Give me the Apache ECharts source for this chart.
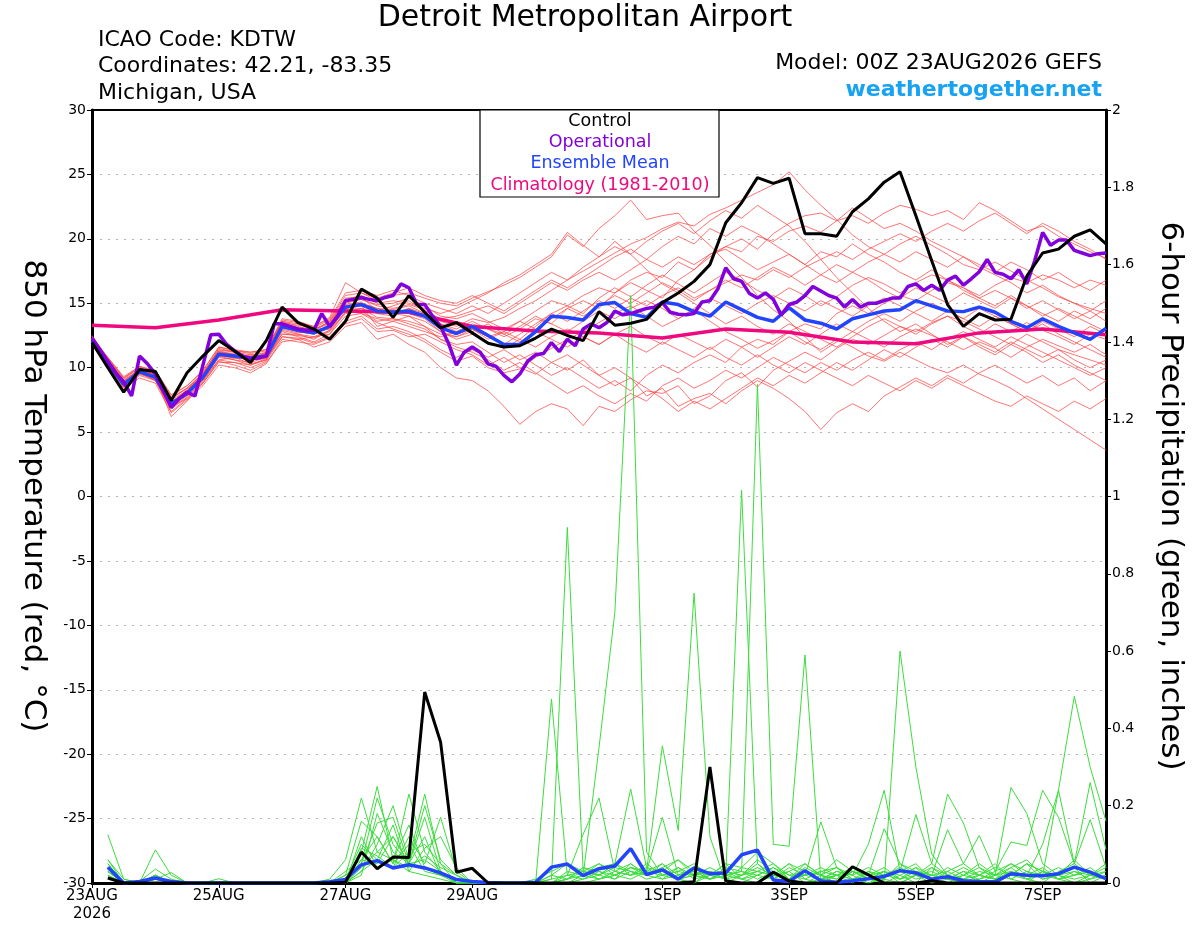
<!DOCTYPE html>
<html><head><meta charset="utf-8">
<script src="https://cdn.jsdelivr.net/npm/echarts@6/dist/echarts.min.js"></script>
<style>html,body{margin:0;padding:0;background:#fff}#c{width:1200px;height:927px}</style>
</head><body><div id="c"></div>
<script>
// ---- axis ticks / labels (x in 6-hour steps from 23AUG2026 00Z) ----
const dateTickSteps = [0, 8, 16, 24, 36, 44, 52, 60];
const dateTickLabels = ['23AUG\n2026', '25AUG', '27AUG', '29AUG', '1SEP', '3SEP', '5SEP', '7SEP'];
const legendNames = ['Control', 'Operational', 'Ensemble Mean', 'Climatology (1981-2010)'];

// ---- 850 hPa temperature, 6-hourly ----
const controlTemp = [
  11.96,10.0,8.1,9.85,9.7,7.45,9.6,10.9,
  12.1,11.3,10.4,12.1,14.7,13.5,13.0,12.2,
  13.6,16.1,15.4,13.9,15.6,14.3,13.1,13.5,
  12.7,11.9,11.6,11.7,12.3,13.0,12.5,12.1,
  14.35,13.3,13.45,13.75,15.05,15.8,16.7,18.0,
  21.25,22.8,24.75,24.3,24.7,20.4,20.4,20.2,
  22.1,23.1,24.4,25.2,21.8,18.3,14.9,13.2,
  14.2,13.7,13.75,17.1,18.9,19.2,20.2,20.7,
  19.6];
const meanTemp = [
  12.1,10.4,8.7,9.7,9.25,7.2,8.0,9.25,
  11.05,10.9,10.75,10.9,13.2,12.9,12.7,13.2,
  14.7,14.9,14.4,14.3,14.4,14.0,13.1,12.65,
  13.2,12.5,11.8,11.8,12.8,14.0,13.9,13.7,
  14.9,15.05,14.2,13.9,15.1,14.9,14.35,14.0,
  15.1,14.5,13.9,13.6,14.65,13.7,13.45,13.0,
  13.8,14.1,14.4,14.5,15.2,14.8,14.4,14.35,
  14.7,14.3,13.6,13.1,13.8,13.2,12.7,12.2,
  13.05];
// operational run, 3-hourly
const operationalTemp = [
  12.3,11.4,10.5,9.6,8.9,7.8,10.9,10.3,
  9.5,8.2,6.9,7.6,8.1,7.8,10.2,12.55,
  12.6,11.8,11.3,10.9,10.7,10.75,10.9,13.4,
  13.4,13.2,13.0,12.9,12.9,14.2,13.2,14.0,
  15.2,15.3,15.45,15.3,15.2,15.45,15.6,16.5,
  16.2,14.9,14.9,14.0,13.2,11.9,10.2,11.2,
  11.6,11.2,10.3,10.1,9.4,8.9,9.5,10.5,
  11.0,11.1,11.95,11.25,12.2,11.7,13.0,13.4,
  13.1,13.5,14.4,14.1,14.2,14.4,14.6,14.7,
  15.05,14.3,14.15,14.1,14.2,15.1,15.2,16.1,
  17.75,16.9,16.7,15.75,15.4,15.8,15.3,14.1,
  14.9,15.1,15.6,16.3,15.95,15.6,15.4,14.7,
  15.3,14.7,15.0,15.0,15.2,15.4,15.4,16.3,
  16.5,16.0,16.4,16.0,16.8,17.1,16.4,16.9,
  17.45,18.4,17.4,17.25,16.9,17.6,16.5,18.3,
  20.5,19.5,19.9,19.9,19.1,18.9,18.7,18.85,
  18.9];
// climatology, daily (every 4th 6-hour step)
const climatologyTemp = [13.3,13.1,13.7,14.5,14.4,14.3,13.2,12.85,12.7,12.3,13.0,12.75,12.0,11.85,12.7,13.0,12.55];

const memberTemp = [
 [12.4,10.6,9.0,9.9,9.5, 7.5,8.2,9.6,11.3,11.0, 10.5,11.2,13.5,13.0,12.8, 13.6,15.2,15.3,14.8,14.6, 14.9,14.5,13.6,13.2,13.8, 13.5,13.9,14.6,15.2,16.0, 16.8,17.5,18.2,18.9,19.6, 20.1,20.8,21.3,21.0,21.9, 22.4,23.0,23.6,24.2,25.2, 23.8,22.6,21.5,20.3,19.4, 18.8,19.6,20.2,19.5,18.8, 18.0,17.6,18.2,17.5,16.8, 16.2,15.5,15.0,14.6,14.2],
 [12.0,10.2,8.5,9.4,9.0, 6.8,7.7,9.0,10.8,10.6, 10.2,10.6,12.8,12.4,12.0, 12.6,14.0,14.2,13.5,13.0, 12.6,12.0,11.2,10.5,10.9, 10.0,9.6,9.9,10.8,11.5, 12.2,12.8,13.5,14.2,14.8, 14.0,13.2,13.8,14.5,13.6, 12.8,12.2,11.5,12.1,12.8, 12.0,11.4,12.2,11.6,10.9, 10.5,11.2,10.6,10.0,9.6, 10.2,9.5,9.0,8.4,7.6, 6.8,6.0,5.2,4.4,3.6],
 [12.3,10.5,8.8,9.6,9.3, 6.2,7.4,8.8,10.5,10.2, 9.8,10.4,12.0,12.2,11.6, 12.0,13.2,13.5,12.2,12.6, 11.8,11.2,10.0,9.2,9.0, 8.2,7.0,5.6,6.6,7.2, 6.8,5.5,7.0,6.6,7.5, 8.2,8.0,8.6,7.2,7.8, 9.0,9.6,8.5,9.8,10.5, 11.2,10.6,11.5,12.2,11.8, 12.5,13.2,12.8,13.5,14.0, 13.2,12.6,13.4,12.8,13.5, 12.9,12.4,11.8,12.6,12.2],
 [12.2,10.8,9.3,10.1,9.8, 7.9,8.6,9.8,11.6,11.4, 11.2,11.4,13.8,13.6,13.2, 13.9,16.6,15.8,15.2,15.6, 15.8,15.4,15.0,14.8,15.4, 15.9,16.4,17.0,17.8,18.6, 20.3,19.4,20.8,21.8,23.0, 21.5,21.8,22.0,20.6,19.5, 18.2,17.0,15.6,14.5,13.6, 12.4,11.2,12.0,12.8,12.2, 11.6,12.4,13.0,12.5,12.0, 11.4,12.0,11.5,10.8,11.6, 12.2,11.7,11.2,11.8,11.0],
 [11.8,10.0,8.4,9.2,8.8, 6.5,7.5,8.6,10.2,10.0, 9.6,10.3,12.2,12.0,11.8, 12.3,13.4,13.8,12.8,12.9, 12.4,12.6,12.0,11.4,11.0, 10.2,10.8,10.0,9.5,10.4, 9.8,10.6,9.4,8.6,9.2, 7.8,8.4,7.0,7.6,8.0, 7.2,8.2,9.0,8.4,7.6, 6.6,5.2,6.5,7.2,6.6, 7.8,8.5,9.2,8.6,9.4, 8.8,9.6,10.2,9.5,8.8, 9.4,8.6,9.2,8.2,9.0],
 [12.5,10.7,9.1,10.0,9.4, 7.6,8.4,9.5,11.4,11.2, 11.0,11.1,13.4,13.1,13.0, 13.5,15.0,15.3,14.9,15.0, 15.4,14.8,14.0,13.8,14.2, 13.6,13.0,13.6,14.4,15.2, 14.8,15.6,16.2,15.8,16.8, 17.4,17.0,18.2,17.6,18.8, 19.4,19.0,20.2,19.8,20.6, 21.0,20.5,21.4,21.8,21.2, 22.0,22.6,22.3,21.8,22.2, 21.5,22.8,22.2,21.4,20.6, 21.0,20.2,19.6,19.0,18.5],
 [12.0,10.3,8.6,9.8,9.1, 7.0,8.1,9.3,11.0,10.7, 11.0,10.8,13.0,12.7,12.8, 13.0,14.5,14.6,14.2,14.4, 14.2,13.8,12.8,12.2,12.6, 12.0,11.5,12.2,13.2,14.2, 14.8,14.2,15.4,16.2,15.5, 16.4,17.2,16.5,15.8,16.6, 17.4,16.8,16.0,15.4,16.2, 15.6,14.8,15.5,16.4,17.0, 16.5,15.8,16.6,17.2,16.8, 16.0,15.4,16.0,15.4,14.6, 15.2,14.5,13.8,14.4,13.6],
 [12.2,10.6,8.9,9.9,9.4, 7.3,8.3,9.4,11.2,11.1, 10.9,11.2,13.6,13.4,13.0, 13.4,15.3,15.6,15.0,15.2, 15.0,14.6,14.2,14.6,15.2, 15.8,16.6,17.2,18.0,18.8, 20.5,19.5,18.6,19.8,18.8, 17.6,16.5,15.8,15.0,14.2, 13.4,14.0,13.2,12.6,13.4, 12.8,12.2,11.6,12.4,13.2, 13.8,13.2,12.6,13.4,14.0, 13.6,13.0,12.4,11.8,12.6, 12.0,11.4,11.0,10.6,10.2],
 [12.1,10.4,8.7,9.5,9.3, 7.1,7.9,9.1,10.9,10.6, 10.4,10.8,12.6,12.5,12.3, 12.8,14.2,14.4,13.6,13.8, 13.4,13.0,12.2,11.8,12.0, 11.2,10.4,11.0,10.2,9.4, 10.0,9.2,8.4,9.0,8.2, 9.4,10.2,9.6,10.4,11.0, 10.4,11.6,12.2,11.8,12.8, 13.4,13.0,14.2,14.8,14.2, 15.0,15.6,15.2,16.0,16.6, 16.2,15.6,16.4,17.0,16.6, 17.2,16.8,16.2,16.8,16.4],
 [12.3,10.5,8.8,9.7,9.2, 7.4,8.0,9.2,11.1,10.9, 10.6,11.0,13.1,12.8,12.6, 13.1,14.8,15.0,14.6,14.2, 14.6,14.2,13.4,12.8,13.4, 13.0,12.4,13.0,13.8,13.4, 14.6,15.2,14.6,15.8,16.6, 16.0,15.4,16.8,17.6,18.6, 19.4,20.0,19.2,20.4,21.2, 21.8,22.0,21.4,22.4,21.6, 20.8,21.2,20.6,19.8,19.2, 18.6,17.8,17.2,16.6,15.8, 16.4,15.6,15.0,14.4,15.2],
 [11.9,10.2,8.6,9.6,9.0, 6.9,7.8,9.0,10.6,10.4, 10.2,10.7,12.4,12.2,12.4, 12.6,14.4,14.2,13.8,13.6, 13.2,12.8,12.4,12.8,13.0, 12.4,12.8,12.2,11.6,12.4, 13.0,12.4,11.8,12.6,11.8, 11.2,12.0,11.4,10.8,11.6, 10.8,10.2,11.0,10.2,9.6, 10.4,9.8,9.2,8.6,9.4, 8.8,8.2,9.0,8.4,9.2, 8.6,8.0,7.4,7.0,7.8, 7.2,6.6,7.4,6.8,7.6],
 [12.4,10.7,9.2,10.0,9.6, 7.7,8.4,9.6,11.3,11.3, 11.1,11.3,13.6,13.2,12.9, 13.6,15.4,15.5,14.4,14.8, 15.2,14.4,13.8,14.0,14.4, 14.8,14.2,15.0,15.8,16.6, 16.0,16.8,17.4,16.8,17.6, 18.4,17.8,18.6,18.0,18.8, 19.2,18.4,17.6,18.2,18.8, 18.0,19.0,18.6,19.6,18.8, 18.2,17.4,16.8,17.6,16.8, 16.2,15.4,14.8,15.6,14.8, 14.2,13.6,14.4,13.8,14.6],
 [12.0,10.1,8.5,9.5,9.1, 7.0,7.6,8.9,10.6,10.8, 10.3,10.6,12.6,12.6,12.2, 12.9,14.6,14.8,13.2,13.6, 14.0,13.2,12.6,12.4,12.8, 13.4,12.6,12.0,12.8,12.2, 11.6,12.4,11.8,12.6,13.2, 12.4,11.8,12.6,12.0,11.4, 12.2,11.6,10.8,11.6,12.4, 11.8,12.6,13.4,12.8,13.6, 14.2,13.6,14.4,15.0,14.4, 13.8,14.6,14.0,13.4,12.8, 13.4,12.6,12.0,11.4,10.8],
 [12.2,10.4,8.8,9.8,9.4, 7.2,8.2,9.4,11.2,11.0, 10.8,10.9,13.3,13.0,12.8, 13.2,14.8,15.0,14.6,14.5, 14.8,14.2,13.2,12.6,13.0, 12.4,11.8,12.6,13.4,14.2, 13.6,14.4,15.2,14.6,15.4, 14.8,15.6,16.2,15.4,16.0, 16.6,17.2,16.8,17.6,17.0, 17.8,18.4,19.0,18.4,19.2, 19.8,20.4,19.8,20.6,21.2, 20.6,21.4,22.0,21.2,20.4, 21.2,20.6,19.8,19.2,18.4],
 [12.1,10.3,8.7,9.6,9.2, 7.0,8.0,9.2,10.9,10.8, 10.6,10.7,12.9,12.6,12.4, 12.9,14.3,14.6,13.9,13.8, 13.6,13.2,12.2,11.6,11.2, 10.6,9.8,10.4,9.6,8.8, 8.0,8.6,7.8,7.2,8.0, 7.4,8.6,9.2,8.4,9.0, 9.8,9.2,10.0,10.8,10.2, 9.6,10.4,9.8,10.6,11.2, 10.6,11.4,12.0,11.4,12.2, 12.8,12.2,11.6,12.4,11.8, 11.2,10.6,10.0,9.4,10.0],
 [12.3,10.6,9.0,9.8,9.5, 7.6,8.4,9.5,11.5,11.2, 10.8,11.1,13.5,13.3,13.1, 13.7,15.6,15.8,15.4,15.8, 16.2,15.6,15.2,15.0,15.6, 15.0,14.4,15.2,16.0,16.8, 16.2,17.0,17.8,18.6,19.2, 18.4,19.4,20.2,19.6,20.8, 20.2,21.0,20.4,19.6,18.8, 18.0,17.2,16.6,17.4,16.8, 16.0,15.4,16.2,15.6,15.0, 15.8,15.2,14.6,15.4,14.8, 14.0,14.6,14.0,13.4,12.8],
 [12.2,10.5,8.9,9.7,9.3, 7.3,8.1,9.3,11.0,10.9, 10.7,11.0,13.1,12.9,12.7, 13.3,14.9,15.1,14.2,14.0, 14.6,14.0,13.4,13.0,13.6, 13.0,12.6,13.2,14.0,13.4, 12.8,13.6,14.4,13.8,14.6, 15.2,14.6,13.8,14.6,15.4, 14.8,14.2,15.0,15.6,15.0, 14.4,15.2,14.6,14.0,14.8, 15.4,14.8,14.2,13.6,14.4, 13.8,13.2,14.0,13.4,12.8, 13.6,13.0,12.4,13.2,12.6],
 [11.9,10.2,8.5,9.6,9.0, 6.6,7.6,8.8,10.4,10.4, 10.0,10.5,12.4,12.3,11.9, 12.4,13.6,14.0,13.0,13.2, 12.8,12.2,11.4,10.8,11.4, 10.8,11.4,10.6,11.2,10.4, 11.0,10.2,9.4,10.0,9.2, 8.4,7.6,6.6,7.4,6.8, 7.6,8.4,9.2,8.6,9.4, 8.8,9.6,10.4,9.8,10.6, 11.4,10.8,11.6,12.2,11.6, 12.4,11.8,11.2,12.0,11.4, 10.8,11.4,10.6,10.0,10.6],
 [12.4,10.8,9.2,10.1,9.7, 7.8,8.6,9.7,11.6,11.3, 11.2,11.4,13.7,13.5,13.2, 13.8,15.8,16.0,15.6,16.0, 15.6,15.0,14.6,14.2,14.8, 14.2,15.0,15.8,16.6,17.4, 16.8,17.8,18.6,19.4,18.8, 19.8,20.6,21.2,20.4,21.4, 22.2,21.6,22.6,21.8,21.0, 19.8,18.4,17.0,15.8,14.6, 13.6,12.8,13.4,12.6,11.8, 12.4,11.6,11.0,11.8,11.2, 10.4,11.0,10.2,9.6,9.0],
 [12.0,10.4,8.8,9.7,9.2, 7.1,8.2,9.4,11.1,10.8, 10.6,11.0,13.2,12.8,12.6, 13.1,14.6,14.8,14.2,14.2, 14.0,13.6,12.8,12.4,13.0, 12.2,12.8,13.6,13.0,13.8, 14.6,14.0,14.8,15.6,15.0, 15.8,16.6,16.0,15.2,16.0, 16.8,16.2,17.0,17.8,17.2, 16.4,17.2,18.0,17.4,18.2, 18.8,18.2,19.0,18.4,17.8, 18.6,18.0,17.4,18.2,17.6, 16.8,17.4,16.6,16.0,16.8]
];

// ---- 6-hour precipitation (inches), periods ending at step 1..64 ----
const controlPrecip = [
  0.013,0,0,0,0,0,0,0,
  0,0,0,0,0,0,0,0.002,
  0.08,0.037,0.067,0.066,0.494,0.365,0.028,0.038,
  0,0,0,0,0,0,0,0,
  0,0,0,0,0,0.003,0.30,0.005,
  0,0,0.028,0.005,0,0,0,0.042,
  0.021,0,0,0,0.006,0,0,0,
  0,0,0,0,0,0,0,0];
const meanPrecip = [
  0.041,0,0.004,0.013,0.004,0,0,0,
  0,0,0,0,0,0,0.003,0.009,
  0.047,0.058,0.039,0.047,0.039,0.026,0.009,0.004,
  0.001,0,0,0.002,0.041,0.049,0.019,0.037,
  0.044,0.089,0.022,0.034,0.01,0.039,0.024,0.026,
  0.073,0.085,0.008,0.004,0.032,0.006,0.002,0.006,
  0.011,0.017,0.032,0.026,0.01,0.016,0.006,0.004,
  0.003,0.024,0.02,0.019,0.024,0.041,0.028,0.011];
const memberPrecip = [
 [0.05,0,0.004,0.036,0.01,0,0,0,
  0,0,0,0,0,0,0,0.01,
  0.08,0.25,0.06,0.03,0.02,0.01,0,0,
  0,0,0,0.01,0.03,0.05,0.02,0.35,
  0.70,1.52,0.08,0.02,0.01,0,0.03,0.01,
  0,0.02,0.04,0.01,0,0.01,0.03,0.02,
  0,0.01,0.05,0.02,0,0.01,0.03,0,
  0,0.02,0.05,0.03,0.01,0,0.02,0.04],
 [0.04,0,0,0.02,0,0,0,0,
  0,0,0,0,0,0,0,0.02,
  0.16,0.12,0.05,0.23,0.08,0.03,0,0,
  0,0,0,0,0.01,0.92,0.03,0.02,
  0.04,0.03,0.02,0.05,0.01,0,0.02,0.05,
  0.01,0,0.02,0.05,0.01,0,0.02,0,
  0.03,0.01,0,0.02,0.04,0.01,0,0.02,
  0.05,0.01,0,0.03,0.02,0,0.01,0.03],
 [0.03,0,0,0.01,0.027,0,0,0,
  0,0,0,0,0,0,0,0,
  0.05,0.155,0.17,0.05,0.2,0.06,0.02,0,
  0,0,0,0,0.476,0.02,0.126,0.22,
  0.03,0.05,0.02,0.01,0.04,0.02,0.01,0.03,
  0.02,0.05,0.01,0.03,0,0.02,0.04,0.01,
  0,0.02,0.03,0.05,0.01,0,0.02,0.05,
  0.02,0.04,0.01,0,0.03,0.05,0.02,0.01],
 [0.06,0.01,0,0.02,0,0,0,0.011,
  0,0,0,0,0,0,0.01,0.06,
  0.22,0.08,0.12,0.05,0.04,0.02,0.01,0,
  0,0,0,0,0,0.03,0.02,0.04,
  0.05,0.02,0.03,0.355,0.136,0.75,0.12,0,
  0.02,0.06,0.03,0.01,0.05,0.02,0,0.03,
  0.01,0,0.02,0.04,0,0.03,0.01,0.02,
  0.04,0.02,0.05,0.01,0.02,0.04,0,0.02],
 [0.125,0.01,0,0.086,0.02,0,0,0,
  0,0,0,0,0,0,0,0,
  0.03,0.1,0.2,0.06,0.23,0.05,0.02,0,
  0,0,0,0,0,0.01,0.04,0.02,
  0.05,0.243,0.04,0.03,0.06,0.02,0.04,0.02,
  1.016,0.05,0.02,0.01,0.04,0.02,0.06,0.03,
  0.01,0.03,0,0.02,0.05,0.02,0.01,0,
  0.02,0.05,0.03,0.01,0.02,0.06,0.02,0.05],
 [0.03,0,0,0.01,0,0,0,0,
  0,0,0,0,0,0,0,0.03,
  0.06,0.05,0.12,0.05,0.17,0.03,0,0,
  0,0,0,0,0.02,0.05,0.03,0.05,
  0.02,0.04,0.03,0.17,0.02,0.03,0.01,0.04,
  0.03,1.29,0.10,0.095,0.59,0.01,0.02,0.04,
  0.01,0.03,0.02,0,0.04,0.02,0.01,0.03,
  0.02,0.03,0.01,0.02,0.04,0.02,0.03,0.01],
 [0.04,0,0,0.02,0,0,0,0,
  0,0,0,0,0,0,0,0,
  0.04,0.08,0.06,0.04,0.07,0.04,0.02,0,
  0,0,0,0,0,0.02,0.01,0.03,
  0.02,0.04,0.02,0.03,0.01,0.02,0.03,0.01,
  0.02,0.03,0.05,0.01,0.02,0.03,0.04,0.01,
  0.01,0.005,0.60,0.30,0.075,0.02,0.04,0.02,
  0.01,0.02,0.05,0.03,0.01,0.02,0.03,0.01],
 [0.02,0,0,0.01,0,0,0,0,
  0,0,0,0,0,0,0,0.01,
  0.1,0.06,0.04,0.12,0.05,0.17,0.03,0,
  0,0,0,0,0,0.01,0.02,0.05,
  0.03,0.02,0.05,0.02,0.03,0.02,0.01,0.03,
  0.02,0.04,0.02,0.03,0.05,0.02,0.01,0.03,
  0.02,0.04,0.01,0.02,0.03,0.01,0.02,0.04,
  0.01,0.03,0.02,0.10,0.24,0.483,0.30,0.16],
 [0.03,0,0,0.02,0,0,0,0,
  0,0,0,0,0,0,0,0,
  0.06,0.12,0.05,0.1,0.03,0.02,0,0,
  0,0,0,0,0,0.01,0.03,0.02,
  0.01,0.03,0.02,0.04,0.01,0.02,0.03,0.02,
  0.03,0.02,0.01,0.04,0.02,0.158,0.04,0.02,
  0.1,0.24,0.03,0.177,0.05,0.23,0.155,0.04,
  0.02,0.247,0.18,0.05,0.02,0.03,0.01,0.02],
 [0.04,0,0,0.01,0,0,0,0,
  0,0,0,0,0,0,0,0,
  0.02,0.18,0.08,0.05,0.12,0.02,0.01,0,
  0,0,0,0,0,0,0.02,0.01,
  0.02,0.01,0.03,0.02,0.04,0.01,0.02,0.03,
  0.01,0.02,0.04,0.02,0.03,0.01,0.02,0.01,
  0.02,0.14,0.05,0.03,0.02,0.138,0.05,0.123,
  0.03,0.106,0.097,0.24,0.17,0.05,0.26,0.086],
 [0.05,0,0,0.02,0,0,0,0,
  0,0,0,0,0,0,0,0.02,
  0.05,0.22,0.1,0.05,0.06,0.03,0,0,
  0,0,0,0,0,0,0.01,0.02,
  0.05,0.03,0.01,0.02,0.03,0.05,0.02,0.01,
  0.04,0.03,0.02,0.05,0.03,0.02,0.01,0.04,
  0.02,0.03,0.01,0.04,0.02,0.03,0.05,0.02,
  0.01,0.04,0.06,0.02,0.24,0.05,0.164,0.04],
 [0.03,0,0,0.01,0,0,0,0,
  0,0,0,0,0,0,0,0,
  0.03,0.06,0.15,0.03,0.09,0.12,0.04,0,
  0,0,0,0,0.01,0.02,0.03,0.01,
  0.03,0.02,0.04,0.01,0.02,0.03,0.01,0.02,
  0.01,0.03,0.02,0.01,0.02,0.04,0.02,0.03,
  0.01,0.02,0.03,0.01,0.02,0.01,0.03,0.02,
  0.01,0.02,0.01,0.03,0.02,0.01,0.02,0.03],
 [0.02,0,0,0.01,0,0,0,0,
  0,0,0,0,0,0,0,0,
  0.12,0.04,0.06,0.15,0.04,0.02,0.01,0,
  0,0,0,0,0.02,0.01,0.04,0.03,
  0.01,0.05,0.02,0.04,0.06,0.03,0.02,0.05,
  0.04,0.08,0.05,0.02,0.01,0.03,0.02,0.01,
  0.03,0.02,0.04,0.02,0.01,0.04,0.02,0.01,
  0.03,0.05,0.02,0.04,0.01,0.02,0.04,0.01],
 [0.06,0,0,0.02,0,0,0,0,
  0,0,0,0,0,0,0,0,
  0.09,0.07,0.04,0.08,0.1,0.05,0,0,
  0,0,0,0,0,0,0,0.01,
  0.02,0.04,0.03,0.05,0.02,0.04,0.01,0.02,
  0.03,0.01,0.03,0.01,0.02,0.01,0.03,0.02,
  0.04,0.02,0.01,0.03,0.02,0.01,0,0.01,
  0.02,0.01,0.03,0.02,0.01,0.03,0.02,0.01]
];

// ---- build chart ----
const FONT = '"DejaVu Sans", "Liberation Sans", Arial, sans-serif';
const C_OPER = '#8200dc', C_MEAN = '#2244ff', C_CLIM = '#f0087e', C_RED = 'rgba(255,70,70,0.75)', C_GREEN = '#3ddc3d';

const six = arr => arr.map((v, i) => [i, v]);
const sixP = arr => arr.map((v, i) => [i + 1, v]);
const three = arr => arr.map((v, i) => [i / 2, v]);
const daily = arr => arr.map((v, i) => [i * 4, v]);

function line(data, color, width, yIdx, z) {
  return { type: 'line', data, yAxisIndex: yIdx, showSymbol: false, symbol: 'none', silent: true,
    lineStyle: { color, width }, emphasis: { disabled: true }, z, animation: false, clip: true };
}

const series = [];
memberTemp.forEach(m => series.push(line(six(m), C_RED, 1, 0, 2)));
memberPrecip.forEach(m => series.push(line(sixP(m), C_GREEN, 1, 1, 3)));
series.push(line(daily(climatologyTemp), C_CLIM, 3.5, 0, 4));
series.push(line(sixP(meanPrecip), C_MEAN, 3.5, 1, 5));
series.push(line(sixP(controlPrecip), '#000', 3, 1, 6));
series.push(line(six(meanTemp), C_MEAN, 3.5, 0, 5));
series.push(line(three(operationalTemp), C_OPER, 3.5, 0, 6));
series.push(line(six(controlTemp), '#000', 3, 0, 7));

const txt = (text, x, y, size, opts = {}) => ({
  type: 'text', x, y, z: 100, rotation: opts.rot || 0,
  style: { text, fontSize: size, fontFamily: FONT, fill: opts.color || '#000', fontWeight: opts.bold ? 'bold' : 'normal',
    align: opts.align || 'left', verticalAlign: 'middle', textAlign: opts.align || 'left', textVerticalAlign: 'middle' }
});

const chart = echarts.init(document.getElementById('c'), null, { renderer: 'canvas' });
chart.setOption({
  animation: false,
  backgroundColor: '#fff',
  grid: { left: 92, right: 94, top: 110, bottom: 44, show: true, borderColor: '#000', borderWidth: 2, backgroundColor: 'transparent' },
  xAxis: {
    type: 'value', min: 0, max: 64,
    axisLine: { show: true, onZero: false, lineStyle: { color: '#000', width: 3 } },
    axisTick: { show: true, customValues: dateTickSteps, length: 5, lineStyle: { color: '#000', width: 1 } },
    axisLabel: { customValues: dateTickSteps, formatter: v => dateTickLabels[dateTickSteps.indexOf(v)] || '',
      fontSize: 15, fontFamily: FONT, color: '#000', margin: 4, lineHeight: 18 },
    splitLine: { show: false }
  },
  yAxis: [
    { type: 'value', min: -30, max: 30, interval: 5, position: 'left',
      axisLine: { show: true, onZero: false, lineStyle: { color: '#000', width: 3 } },
      axisTick: { show: true, length: 5, lineStyle: { color: '#000', width: 1 } },
      axisLabel: { fontSize: 14, fontFamily: FONT, color: '#000', margin: 6 },
      splitLine: { show: true, showMinLine: false, showMaxLine: false, lineStyle: { color: '#b4b4b4', width: 1.2, type: [2, 6] } } },
    { type: 'value', min: 0, max: 2, interval: 0.2, position: 'right',
      axisLine: { show: true, onZero: false, lineStyle: { color: '#000', width: 3 } },
      axisTick: { show: true, length: 5, lineStyle: { color: '#000', width: 1 } },
      axisLabel: { fontSize: 14, fontFamily: FONT, color: '#000', margin: 6, formatter: v => String(Math.round(v * 10) / 10) },
      splitLine: { show: false } }
  ],
  series,
  graphic: [
    txt('Detroit Metropolitan Airport', 585, 18, 30, { align: 'center' }),
    txt('ICAO Code: KDTW', 98, 40, 22),
    txt('Coordinates: 42.21, -83.35', 98, 66, 22),
    txt('Michigan, USA', 98, 93, 22),
    txt('Model: 00Z 23AUG2026 GEFS', 1102, 63, 22, { align: 'right' }),
    txt('weathertogether.net', 1102, 90, 22, { align: 'right', bold: true, color: '#17a2f2' }),
    txt('850 hPa Temperature (red, °C)', 33, 496, 31, { align: 'center', rot: -Math.PI / 2 }),
    txt('6-hour Precipitation (green, inches)', 1170, 496, 31, { align: 'center', rot: -Math.PI / 2 }),
    { type: 'rect', z: 90, shape: { x: 480, y: 110, width: 239, height: 87 },
      style: { fill: '#fff', stroke: '#000', lineWidth: 1.2 } },
    txt(legendNames[0], 600, 121, 17.5, { align: 'center' }),
    txt(legendNames[1], 600, 142, 17.5, { align: 'center', color: C_OPER }),
    txt(legendNames[2], 600, 163, 17.5, { align: 'center', color: C_MEAN }),
    txt(legendNames[3], 600, 185, 17.5, { align: 'center', color: C_CLIM })
  ]
});
</script>
</body></html>
